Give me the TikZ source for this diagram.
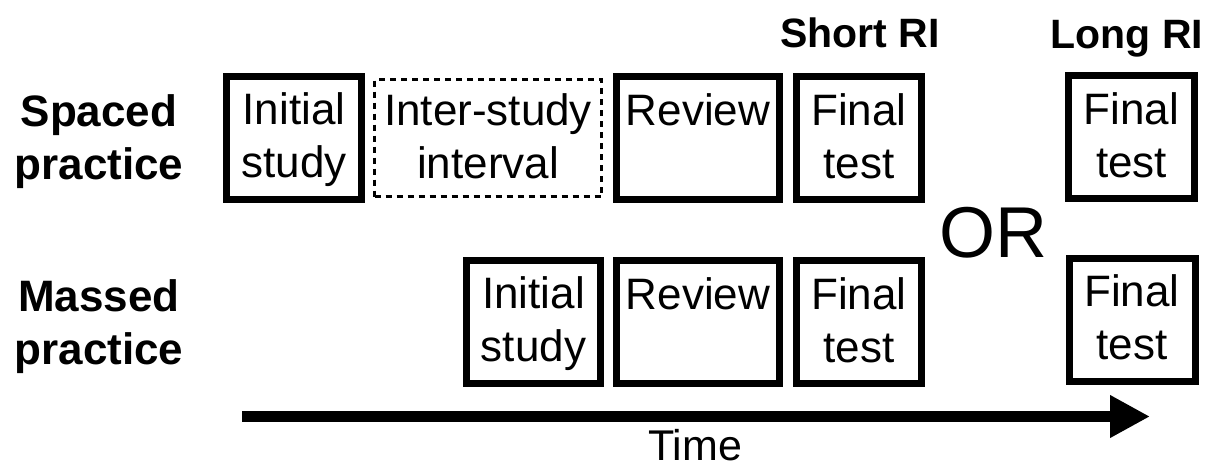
\documentclass[tikz,border=0pt]{standalone}
\usepackage{fontspec}
\setmainfont{Liberation Sans}
\usepackage{tikz}
\usetikzlibrary{arrows.meta,positioning}
\usepackage{xcolor}
\definecolor{StageBlack}{HTML}{000000}
\definecolor{StageWhite}{HTML}{ffffff}

% two lines of box text, with fixed top and bottom
\newcommand{\twolines}[2]{\rule{0pt}{35pt}#1\\#2\rule[-8pt]{0pt}{8pt}}

\tikzset{
    % Thick square boxes
    stage/.style={
        rectangle,
        draw=StageBlack,
        line width=7pt,
        fill=StageWhite,
        text=StageBlack,
        minimum height=123pt,
        inner sep=2pt,
        align=center,
        font=\fontsize{44}{53}\selectfont
    },
    stage gap/.style={
        stage,
        line width=3pt,
        dash pattern=on 6pt off 5pt,
        minimum height=117pt
    },
    row label/.style={
        align=center,
        font=\fontsize{44}{53}\selectfont\bfseries
    },
    ri label/.style={
        anchor=base,
        font=\fontsize{41}{49}\selectfont\bfseries
    },
    time arrow/.style={
        -{Triangle[length=40pt,width=40pt]},
        line width=11pt,
        color=StageBlack
    }
}

\begin{document}
\begin{tikzpicture}[x=1pt, y=-1pt]
        \useasboundingbox (0,0) rectangle (1214,467);

        % Row labels
        \node[row label] (splabel) at (99,140) {\twolines{Spaced}{practice}};
        \node[row label] (mslabel) at (99,325) {\twolines{Massed}{practice}};

        % Retention intervals
        \node[ri label] (shortri) at (860,47) {Short RI};
        \node[ri label] (longri) at (1127,48) {Long RI};

        % Spaced practice
        \node[stage, minimum width=135pt] (spinit) at (294,138) {\twolines{Initial}{study}};
        \node[stage gap, minimum width=227pt] (spgap) at (488,138) {\twolines{Inter-study}{interval}};
        \node[stage, minimum width=163pt] (sprev) at (698,138) {\twolines{Review}{\mbox{}}};
        \node[stage, minimum width=125pt] (spshort) at (859,138) {\twolines{Final}{test}};
        \node[stage, minimum width=126pt] (splong) at (1131.5,137) {\twolines{Final}{test}};

        % Massed practice
        \node[stage, minimum width=134pt] (msinit) at (533.5,322) {\twolines{Initial}{study}};
        \node[stage, minimum width=163pt] (msrev) at (698,322) {\twolines{Review}{\mbox{}}};
        \node[stage, minimum width=125pt] (msshort) at (859,322) {\twolines{Final}{test}};
        \node[stage, minimum width=126pt] (mslong) at (1132,319.5) {\twolines{Final}{test}};

        \node[anchor=base, font=\fontsize{72}{80}\selectfont] (orlabel) at (993,257) {OR};

        % Time axis
        \coordinate (tstart) at (242,416.5);
        \coordinate (tend) at (1150,416.5);
        \draw[time arrow] (tstart) -- (tend);
        \node[anchor=base, inner sep=0pt, font=\fontsize{43}{50}\selectfont] (timelabel) at (695,460) {Time};
    \end{tikzpicture}
\end{document}
